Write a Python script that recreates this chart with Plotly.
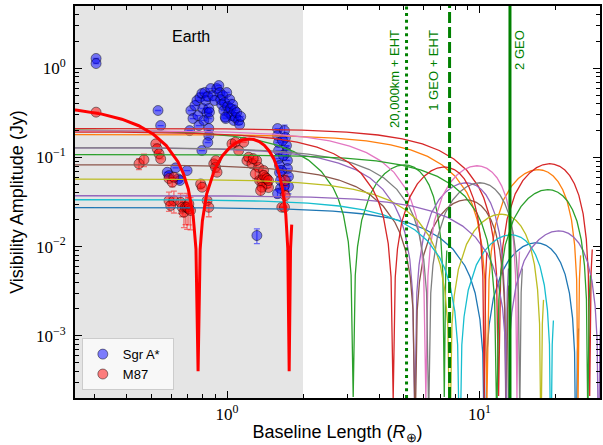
import math
import plotly.graph_objects as go

# ---------------- data ----------------
# Sgr A* visibility amplitudes: baseline (Earth radii), amplitude (Jy), error (Jy)
SGRA_BASELINE = [0.303, 0.303, 0.533, 0.546, 0.580, 0.589, 0.626, 0.641, 0.695, 0.651, 0.711,
                 0.719, 0.733, 0.746, 0.760, 0.767, 0.774, 0.781, 0.795, 0.802, 0.809, 0.817,
                 0.824, 0.832, 0.839, 0.847, 0.847, 0.847, 0.847, 0.839, 0.795, 0.862, 0.878,
                 0.894, 0.911, 0.928, 0.936, 0.944, 0.953, 0.962, 0.971, 0.979, 0.988, 0.997,
                 1.006, 1.016, 1.025, 1.034, 1.044, 1.053, 1.063, 1.072, 1.082, 1.092, 1.112,
                 1.122, 1.133, 0.852, 0.984,
                 1.585, 1.585, 1.600, 1.600, 1.600, 1.614, 1.614, 1.629, 1.629, 1.585, 1.689,
                 1.704, 1.720, 1.720, 1.735, 1.735, 1.751, 1.751, 1.659, 1.674, 1.644, 1.689,
                 1.313]
SGRA_AMP = [1.29, 1.13, 0.336, 0.228, 0.0682, 0.0626, 0.0764, 0.0575, 0.0713, 0.0551, 0.200,
            0.336, 0.273, 0.382, 0.435, 0.295, 0.228, 0.470, 0.522, 0.354, 0.260, 0.535,
            0.435, 0.319, 0.483, 0.354, 0.273, 0.211, 0.176, 0.147, 0.1195, 0.593, 0.495,
            0.435, 0.593, 0.641, 0.535, 0.447, 0.392, 0.495, 0.336, 0.413, 0.273, 0.535,
            0.373, 0.319, 0.447, 0.354, 0.295, 0.392, 0.260, 0.336, 0.280, 0.319, 0.260,
            0.234, 0.288, 0.322, 0.283,
            0.211, 0.176, 0.147, 0.1195, 0.0972, 0.0811, 0.0677, 0.0551, 0.0448, 0.0393, 0.200,
            0.167, 0.136, 0.1135, 0.0923, 0.075, 0.061, 0.0471, 0.1547, 0.105, 0.0713, 0.0484,
            0.0133]
SGRA_ERR = [None] * 59 + [None, None, None, None, None, None, None, None, None, 0.004, 0.03,
                          None, None, 0.02, None, None, None, 0.008, None, None, None, None,
                          0.0025]

# M87 visibility amplitudes
M87_BASELINE = [0.303, 0.448, 0.469, 0.522, 0.529, 0.538, 0.546, 0.589, 0.607, 0.616,
                0.589, 0.616, 0.598, 0.655, 0.665, 0.675, 0.685, 0.695, 0.706, 0.717, 0.706,
                0.786, 0.797, 0.834, 0.847, 0.886, 0.900, 0.913, 0.903,
                1.046, 1.079, 1.112, 1.164, 1.199, 1.218, 1.255, 1.294, 1.334, 1.346, 1.374,
                1.396, 1.418, 1.438, 1.460, 1.374, 1.358, 1.396, 1.438, 1.460, 1.310, 1.270,
                1.648, 1.700, 1.689, 1.700]
M87_AMP = [0.322, 0.0848, 0.094, 0.142, 0.125, 0.110, 0.0965, 0.058, 0.0527, 0.060,
           0.0328, 0.0328, 0.0289, 0.0314, 0.0276, 0.0243, 0.0276, 0.0276, 0.0265, 0.0254, 0.0301,
           0.0505, 0.0463, 0.0328, 0.0276, 0.0848, 0.0776, 0.0682, 0.0923,
           0.142, 0.148, 0.1195, 0.148, 0.0923, 0.1005, 0.0848, 0.0655, 0.0776, 0.0551, 0.0551,
           0.0713, 0.060, 0.0505, 0.0459, 0.0463, 0.0425, 0.0626, 0.058, 0.0551, 0.0923, 0.097,
           0.0276, 0.0374, 0.0276, 0.0551]
M87_ERR = [None, 0.012, 0.015, None, 0.01, None, None, None, 0.006, None,
           0.008, 0.009, None, 0.008, 0.006, 0.008, 0.01, 0.012, 0.009, 0.01, None,
           0.006, None, None, 0.006, None, None, None, None,
           None, None, None, None, None, None, None, 0.008, None, None, 0.008,
           None, None, None, None, None, 0.006, None, None, None, None, None,
           None, 0.005, None, 0.008]

# Ring visibility shape:
# baseline as a fraction of the first null, amplitude as a fraction of the zero-spacing flux
RING_SHAPE_U = [0.01, 0.083, 0.166, 0.25, 0.333, 0.416, 0.499, 0.582, 0.665, 0.748, 0.832,
                0.873, 0.915, 0.956, 0.981, 1.0, 1.019, 1.040, 1.081, 1.164, 1.247, 1.331,
                1.414, 1.497, 1.593, 1.663, 1.746, 1.830, 1.913, 1.996, 2.079, 2.162, 2.225,
                2.266, 2.295, 2.324, 2.349]
RING_SHAPE_V = [1.0, 0.990, 0.960, 0.911, 0.846, 0.765, 0.671, 0.567, 0.455, 0.340, 0.224,
                0.167, 0.110, 0.0555, 0.0234, 0.001, 0.0233, 0.0484, 0.0968, 0.185, 0.260, 0.320,
                0.364, 0.392, 0.403, 0.397, 0.377, 0.342, 0.296, 0.240, 0.178, 0.110, 0.0574,
                0.0238, 0.001, 0.0238, 0.044]

# Predicted sources: zero-spacing flux (Jy) and first-null baseline (Earth radii)
RING_FLUX = [0.0274, 0.181, 0.205, 0.211, 0.129, 0.0832, 0.200, 0.129, 0.0573, 0.0337,
             0.0373, 0.108, 0.194]
RING_NULL = [10.5, 10.7, 3.16, 11.9, 5.54, 5.56, 6.13, 6.29, 7.63, 8.35,
             12.9, 11.7, 4.55]

# M87 ring model fitted to the EHT data
M87_MODEL_FLUX = 0.40
M87_MODEL_NULL = 0.768

EARTH_DIAMETER = 2.0
ORBIT_BASELINES = [5.14, 7.61, 13.2]
ORBIT_LABELS = ["20,000km + EHT", "1 GEO + EHT", "2 GEO"]
LEGEND_NAMES = ["Sgr A*", "M87"]

# ---------------- styles ----------------
RING_COLORS = ["#1f77b4", "#ff7f0e", "#2ca02c", "#d62728", "#9467bd", "#8c564b",
               "#e377c2", "#7f7f7f", "#bcbd22", "#17becf", "#9467bd", "#2ca02c", "#d62728"]
ORBIT_DASH = ["3px,3.7px", "11px,4px", "solid"]
ORBIT_LABEL_SHIFT = [-11.6, -16.3, 10.0]

X_RANGE = [0.25, 30]
Y_RANGE = [2e-4, 5]
PAD = "\u00a0" * 2

fig = go.Figure()

fig.add_shape(type="rect", xref="x", yref="paper", x0=X_RANGE[0], x1=EARTH_DIAMETER,
              y0=0, y1=1, fillcolor="#e5e5e5", line_width=0, layer="below")

fig.add_trace(go.Scatter(
    x=SGRA_BASELINE, y=SGRA_AMP, mode="markers", name=LEGEND_NAMES[0] + PAD,
    marker=dict(size=10, color="rgba(0,0,255,0.5)", line=dict(color="rgba(0,0,0,0.45)", width=1)),
    error_y=dict(type="data", array=SGRA_ERR, color="rgba(0,0,255,0.55)", thickness=1.3, width=3),
))
fig.add_trace(go.Scatter(
    x=M87_BASELINE, y=M87_AMP, mode="markers", name=LEGEND_NAMES[1],
    marker=dict(size=10, color="rgba(255,0,0,0.5)", line=dict(color="rgba(0,0,0,0.45)", width=1)),
    error_y=dict(type="data", array=M87_ERR, color="rgba(255,0,0,0.5)", thickness=1.3, width=3),
))

for flux, null, col in zip(RING_FLUX, RING_NULL, RING_COLORS):
    fig.add_trace(go.Scatter(
        x=[null * u for u in RING_SHAPE_U], y=[flux * v for v in RING_SHAPE_V],
        mode="lines", line=dict(color=col, width=1.3), showlegend=False, hoverinfo="skip"))

fig.add_trace(go.Scatter(
    x=[M87_MODEL_NULL * u for u in RING_SHAPE_U], y=[M87_MODEL_FLUX * v for v in RING_SHAPE_V],
    mode="lines", line=dict(color="#ff0000", width=3), showlegend=False, hoverinfo="skip"))

for xb, lab, dash, sh in zip(ORBIT_BASELINES, ORBIT_LABELS, ORBIT_DASH, ORBIT_LABEL_SHIFT):
    fig.add_shape(type="line", xref="x", yref="paper", x0=xb, x1=xb, y0=0, y1=1,
                  line=dict(color="#008000", width=3, dash=dash))
    fig.add_annotation(x=math.log10(xb), xref="x", y=0.944, yref="paper", text=lab,
                       textangle=-90, showarrow=False, xanchor="center", yanchor="top",
                       xshift=sh, font=dict(family="Liberation Sans", size=13, color="#008000"))

fig.add_annotation(x=math.log10(0.719), xref="x", y=0.922, yref="paper", text="Earth",
                   showarrow=False, xanchor="center", yanchor="middle",
                   font=dict(family="Liberation Sans", size=16, color="black"))

def minor_vals(lo, hi):
    vals = []
    for k in range(lo, hi):
        for m in range(2, 10):
            vals.append(m * 10.0 ** k)
    return vals

tickfont = dict(family="Liberation Serif", size=17, color="black")
axis_common = dict(type="log", showline=True, linecolor="black", linewidth=2, mirror="allticks",
                   ticks="inside", ticklen=7, tickwidth=1.4, tickcolor="black",
                   showgrid=False, zeroline=False, tickfont=tickfont)

fig.update_xaxes(
    range=[math.log10(X_RANGE[0]), math.log10(X_RANGE[1])],
    tickvals=[1, 10], ticktext=["10<sup>0</sup>", "10<sup>1</sup>"],
    minor=dict(tickvals=minor_vals(-1, 2), ticks="inside", ticklen=4, tickwidth=1,
               tickcolor="black", showgrid=False),
    title=dict(text="Baseline Length (<i>R</i><sub>⊕</sub>)",
               font=dict(family="Liberation Sans", size=18, color="black"), standoff=6),
    **axis_common)
fig.update_yaxes(
    range=[math.log10(Y_RANGE[0]), math.log10(Y_RANGE[1])],
    tickvals=[1e-3, 1e-2, 1e-1, 1],
    ticktext=["10<sup>−3</sup>", "10<sup>−2</sup>", "10<sup>−1</sup>", "10<sup>0</sup>"],
    minor=dict(tickvals=minor_vals(-4, 1), ticks="inside", ticklen=4, tickwidth=1,
               tickcolor="black", showgrid=False),
    title=dict(text="Visibility Amplitude (Jy)",
               font=dict(family="Liberation Sans", size=18, color="black"), standoff=8),
    ticklabelstandoff=4,
    **axis_common)

fig.update_layout(
    width=603, height=445, margin=dict(l=75, r=1, t=6, b=47),
    plot_bgcolor="white", paper_bgcolor="white",
    legend=dict(x=0.013, y=0.02, xanchor="left", yanchor="bottom",
                bgcolor="rgba(250,250,250,0.92)", bordercolor="#cccccc", borderwidth=1,
                font=dict(family="Liberation Sans", size=13, color="black")),
    showlegend=True,
)

fig.write_html("out.html")
